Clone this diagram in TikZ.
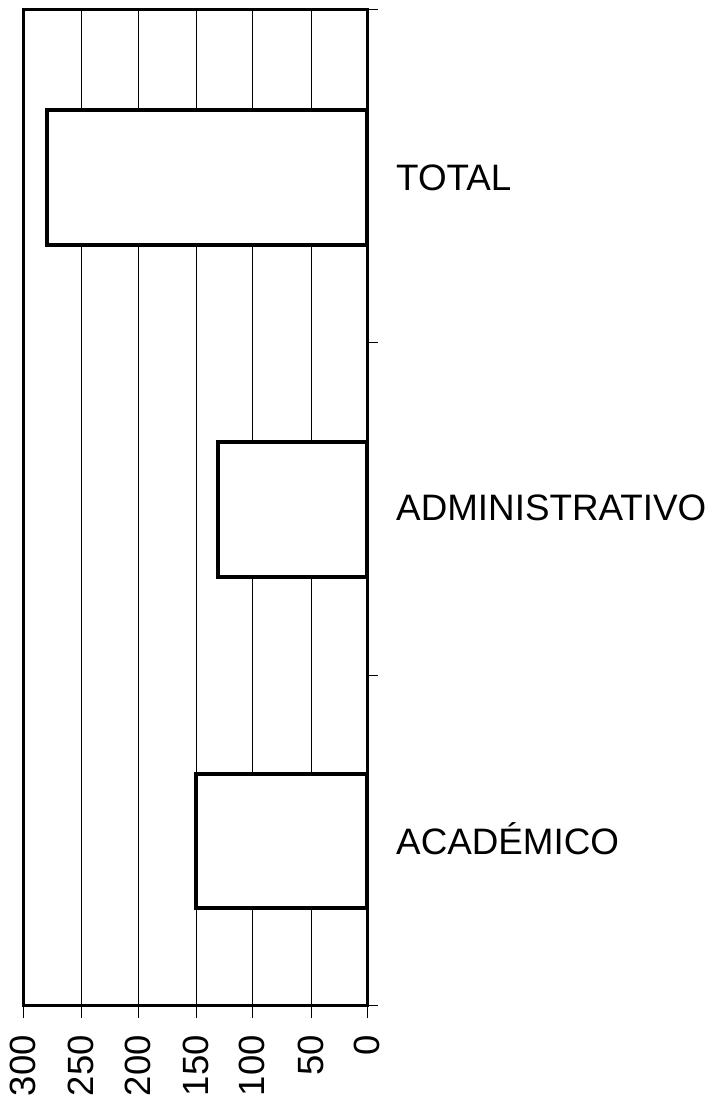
\documentclass[tikz,border=0pt]{standalone}
\usepackage{fontspec}
\setmainfont{Liberation Sans}
\begin{document}
\begin{tikzpicture}[x=1pt,y=-1pt,
  gridline/.style={line width=1pt},
  frameline/.style={line width=3pt},
  barbox/.style={draw, line width=4pt, fill=white},
  catlab/.style={font=\fontsize{36.8}{40}\selectfont, anchor=base west, inner sep=0pt},
  ticklab/.style={font=\fontsize{36.5}{40}\selectfont, rotate=90, anchor=east, inner sep=0pt}]
\useasboundingbox (0,0) rectangle (717,1097);
% grid lines and bottom ticks
\foreach \gx in {81,138,196,252,311}{
  \draw[gridline] (\gx,10) -- (\gx,1018);
}
\draw[gridline] (23,1005) -- (23,1018);
\draw[gridline] (367,1005) -- (367,1018);
% right ticks
\foreach \gy in {10,342,675,1005}{
  \draw[gridline] (367,\gy) -- (378,\gy);
}
% frame
\draw[frameline] (23,10) rectangle (367,1005);
% bars
\draw[barbox] (47,110) rectangle (367,245);
\draw[barbox] (218,442) rectangle (367,577);
\draw[barbox] (196,774) rectangle (367,908);
% category labels
\node[catlab] (ltotal) at (396,190) {TOTAL};
\node[catlab] (ladm) at (396,520) {ADMINISTRATIVO};
\node[catlab] (lacad) at (396,854) {ACADÉMICO};
% axis labels
\node[ticklab] (t300) at (23,1035) {300};
\node[ticklab] (t250) at (81,1035) {250};
\node[ticklab] (t200) at (138,1035) {200};
\node[ticklab] (t150) at (196,1035) {150};
\node[ticklab] (t100) at (252,1035) {100};
\node[ticklab] (t50) at (311,1035) {50};
\node[ticklab] (t0) at (367,1035) {0};
\end{tikzpicture}
\end{document}
